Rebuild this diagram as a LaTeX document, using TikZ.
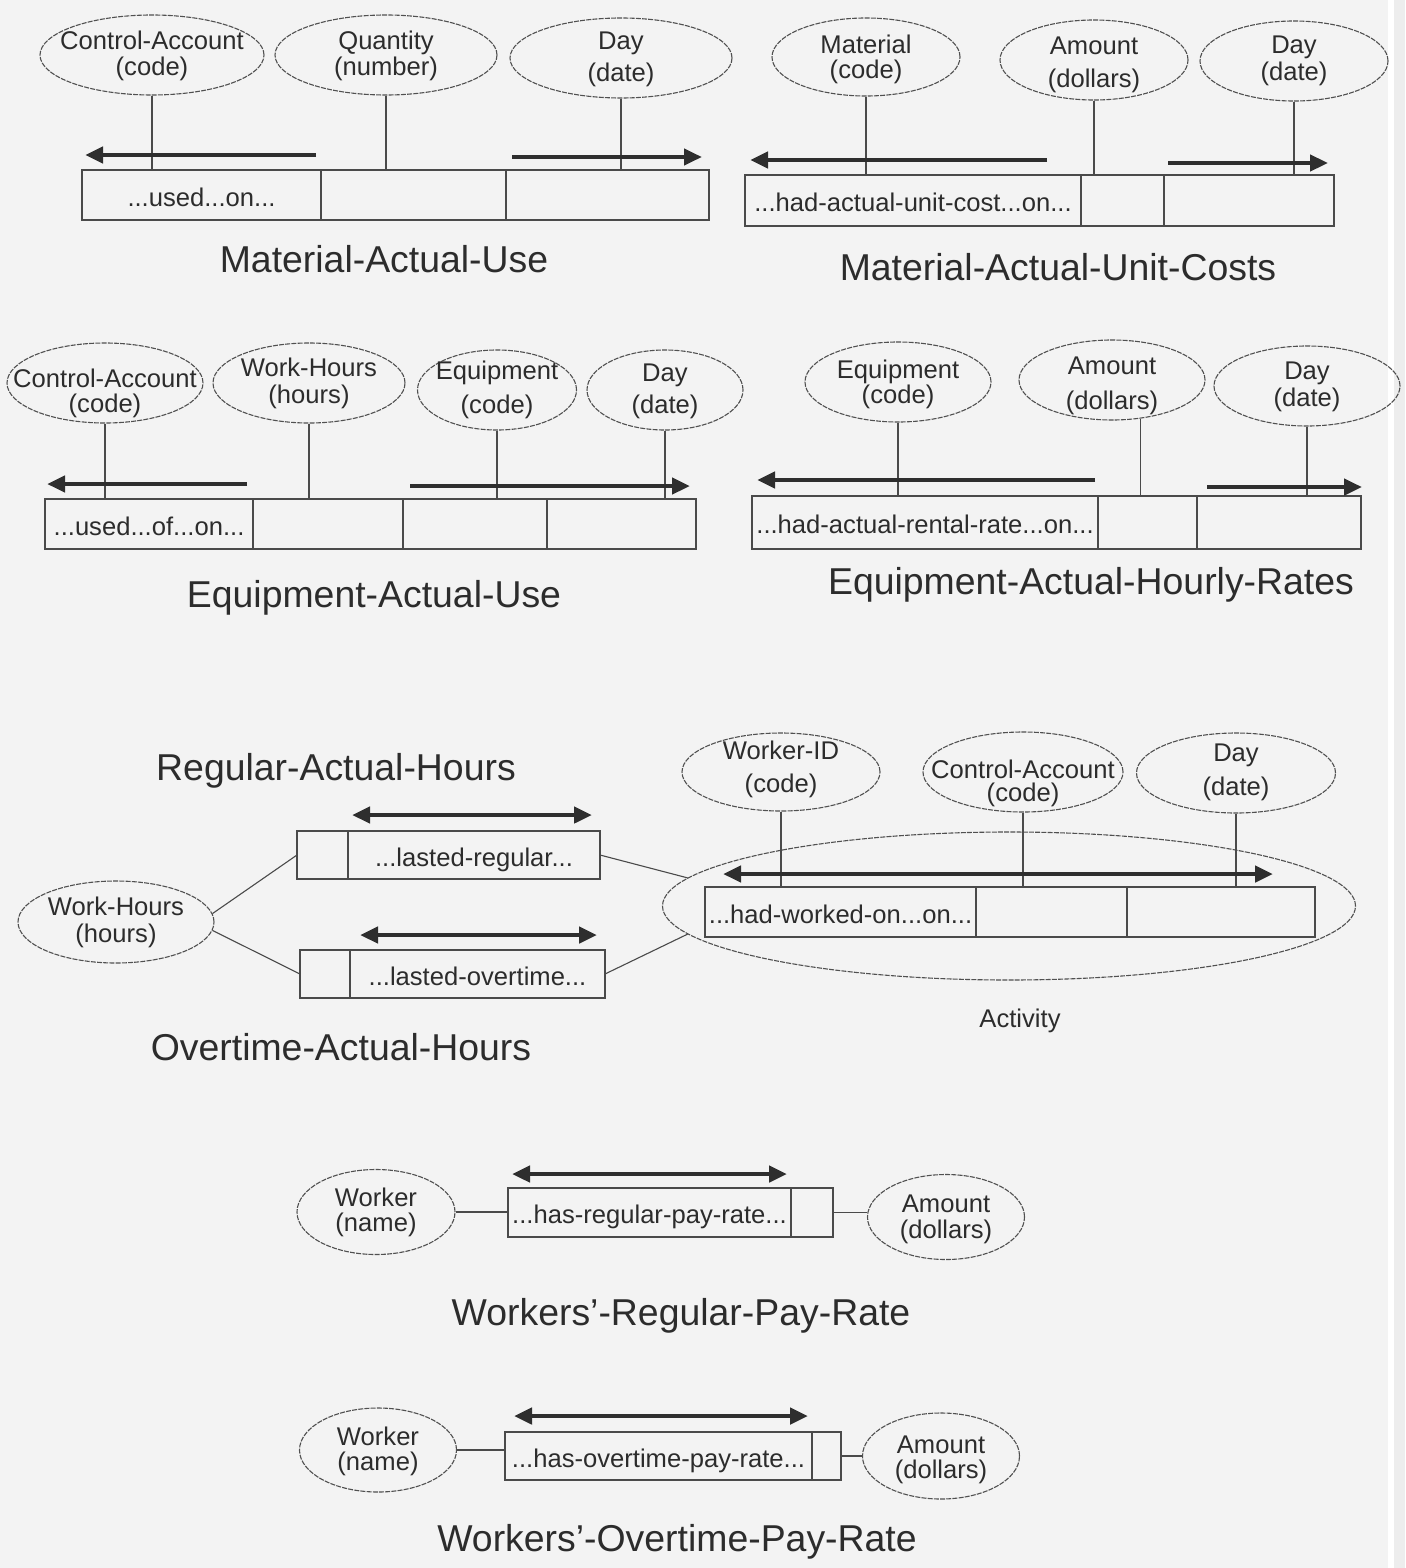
\documentclass[tikz,border=0pt]{standalone}
\usepackage{fontspec}
\setmainfont{Liberation Sans}
\usetikzlibrary{shapes.geometric,arrows.meta}

\definecolor{paper}{HTML}{F3F3F3}
\definecolor{ink}{HTML}{2C2C2C}
\definecolor{linec}{HTML}{4A4A4A}
\definecolor{edgec}{HTML}{505050}
\definecolor{barc}{HTML}{2E2E2E}

% attribute ellipse: name, x, y, width, height, line 1, y of line 1, line 2, y of line 2
\newcommand\attrnode[9]{%
  \node[attr, minimum width=#4pt, minimum height=#5pt] (#1) at (#2,#3) {};
  \node[atxt] (#1-a) at (#2,#7) {#6};
  \node[atxt] (#1-b) at (#2,#9) {#8};
}

\begin{document}
\begin{tikzpicture}[x=1pt,y=-1pt,
  attr/.style={ellipse, draw=edgec, line width=1.1pt, dash pattern=on 5pt off 1.2pt, inner sep=0pt},
  atxt/.style={anchor=base, yshift=-8pt, inner sep=0pt, text=ink, font=\fontsize{25.6}{28}\selectfont},
  cell/.style={rectangle, draw=linec, line width=1.3pt, anchor=north west, inner sep=0pt, outer sep=0pt,
    text=ink, font=\fontsize{25.6}{28}\selectfont, text height=27pt, text depth=5pt},
  link/.style={draw=linec, line width=1.1pt},
  tip/.tip={Triangle[length=18pt,width=16pt]},
  bar/.style={draw=barc, line width=4.5pt, -tip},
  dbar/.style={draw=barc, line width=4.5pt, tip-tip},
  title/.style={anchor=base, yshift=-13.5pt, inner sep=0pt, text=ink, font=\fontsize{37.4}{40}\selectfont},
]
% page
\useasboundingbox (0,0) rectangle (1405,1568);
\fill[paper] (0,0) rectangle (1405,1568);
\fill[white] (1388,0) rectangle (1394,1568);
\fill[black!7] (1394,0) rectangle (1405,1568);

% ---------------- Material-Actual-Use ----------------
\attrnode{ca1}{152}{55}{224}{80}{Control-Account}{42}{(code)}{68}
\attrnode{qty1}{386}{55}{222}{80}{Quantity}{42}{(number)}{68}
\attrnode{day1}{621}{58}{222}{80}{Day}{42}{(date)}{74}
\node[cell, minimum width=239pt, minimum height=50pt] (mu1) at (82,170) {...used...on...};
\node[cell, minimum width=185pt, minimum height=50pt] (mu2) at (mu1.north east) {};
\node[cell, minimum width=203pt, minimum height=50pt] (mu3) at (mu2.north east) {};
\draw[link] (ca1) -- (ca1 |- mu1.north);
\draw[link] (qty1) -- (qty1 |- mu2.north);
\draw[link] (day1) -- (day1 |- mu3.north);
\draw[bar] (316,155) -- (85,155);
\draw[bar] (512,157) -- (702,157);
\node[title] (t1) at (384,259) {Material-Actual-Use};

% ---------------- Material-Actual-Unit-Costs ----------------
\attrnode{mat2}{866}{57}{188}{78}{Material}{46}{(code)}{71}
\attrnode{amt2}{1094}{60}{188}{80}{Amount}{47}{(dollars)}{80}
\attrnode{day2}{1294}{61}{188}{80}{Day}{46}{(date)}{73}
\node[cell, minimum width=336pt, minimum height=51pt] (mc1) at (745,175) {...had-actual-unit-cost...on...};
\node[cell, minimum width=83pt, minimum height=51pt] (mc2) at (mc1.north east) {};
\node[cell, minimum width=170pt, minimum height=51pt] (mc3) at (mc2.north east) {};
\draw[link] (mat2) -- (mat2 |- mc1.north);
\draw[link] (amt2) -- (amt2 |- mc2.north);
\draw[link] (day2) -- (day2 |- mc3.north);
\draw[bar] (1047,160) -- (750,160);
\draw[bar] (1168,163) -- (1328,163);
\node[title] (t2) at (1058,267) {Material-Actual-Unit-Costs};

% ---------------- Equipment-Actual-Use ----------------
\attrnode{ca3}{105}{383}{196}{80}{Control-Account}{379}{(code)}{404}
\attrnode{wh3}{309}{383}{192}{80}{Work-Hours}{368}{(hours)}{395}
\attrnode{eq3}{497}{390}{159}{80}{Equipment}{371}{(code)}{405}
\attrnode{day3}{665}{390}{156}{80}{Day}{373}{(date)}{405}
\node[cell, minimum width=208pt, minimum height=50pt] (eu1) at (45,499) {...used...of...on...};
\node[cell, minimum width=150pt, minimum height=50pt] (eu2) at (eu1.north east) {};
\node[cell, minimum width=144pt, minimum height=50pt] (eu3) at (eu2.north east) {};
\node[cell, minimum width=149pt, minimum height=50pt] (eu4) at (eu3.north east) {};
\draw[link] (ca3) -- (ca3 |- eu1.north);
\draw[link] (wh3) -- (wh3 |- eu2.north);
\draw[link] (eq3) -- (eq3 |- eu3.north);
\draw[link] (day3) -- (day3 |- eu4.north);
\draw[bar] (247,484) -- (47,484);
\draw[bar] (410,486) -- (690,486);
\node[title] (t3) at (374,594) {Equipment-Actual-Use};

% ---------------- Equipment-Actual-Hourly-Rates ----------------
\attrnode{eq4}{898}{382}{186}{80}{Equipment}{370}{(code)}{395}
\attrnode{amt4}{1112}{380}{186}{80}{Amount}{366}{(dollars)}{401}
\attrnode{day4}{1307}{386}{186}{80}{Day}{371}{(date)}{398}
\node[cell, minimum width=346pt, minimum height=53pt] (eh1) at (752,496) {...had-actual-rental-rate...on...};
\node[cell, minimum width=99pt, minimum height=53pt] (eh2) at (eh1.north east) {};
\node[cell, minimum width=164pt, minimum height=53pt] (eh3) at (eh2.north east) {};
\draw[link] (eq4) -- (eq4 |- eh1.north);
\draw[link] (amt4.-54) -- (amt4.-54 |- eh2.north);
\draw[link] (day4) -- (day4 |- eh3.north);
\draw[bar] (1095,480) -- (757,480);
\draw[bar] (1207,487) -- (1362,487);
\node[title] (t4) at (1091,581) {Equipment-Actual-Hourly-Rates};

% ---------------- Regular / Overtime hours on an Activity ----------------
\node[title] (t5) at (336,767) {Regular-Actual-Hours};
\node[title] (t6) at (341,1047) {Overtime-Actual-Hours};

\node[attr, minimum width=693pt, minimum height=148pt] (act5) at (1009,906) {};
\attrnode{wid5}{781}{772}{198}{78}{Worker-ID}{751}{(code)}{784}
\attrnode{ca5}{1023}{772}{200}{80}{Control-Account}{770}{(code)}{793}
\attrnode{day5}{1236}{773}{199}{80}{Day}{753}{(date)}{787}
\node[cell, minimum width=271pt, minimum height=50pt] (aw1) at (705,887) {...had-worked-on...on...};
\node[cell, minimum width=151pt, minimum height=50pt] (aw2) at (aw1.north east) {};
\node[cell, minimum width=188pt, minimum height=50pt] (aw3) at (aw2.north east) {};
\draw[link] (wid5) -- (wid5 |- aw1.north);
\draw[link] (ca5) -- (ca5 |- aw2.north);
\draw[link] (day5) -- (day5 |- aw3.north);
\draw[dbar] (723,874) -- (1273,874);
\node[atxt, yshift=0pt] (actl) at (1020,1019) {Activity};

\attrnode{wh5}{116}{922}{196}{82}{Work-Hours}{907}{(hours)}{934}
\node[cell, minimum width=51pt, minimum height=48pt] (rg1) at (297,831) {};
\node[cell, minimum width=252pt, minimum height=48pt] (rg2) at (rg1.north east) {...lasted-regular...};
\node[cell, minimum width=50pt, minimum height=48pt] (ot1) at (300,950) {};
\node[cell, minimum width=255pt, minimum height=48pt] (ot2) at (ot1.north east) {...lasted-overtime...};
\draw[dbar] (352,815) -- (592,815);
\draw[dbar] (360,935) -- (597,935);
\draw[link] (wh5.5) -- (rg1.west);
\draw[link] (wh5.-5) -- (ot1.west);
\draw[link] (rg2.east) -- (act5.175);
\draw[link] (ot2.east) -- (act5.185);

% ---------------- Workers'-Regular-Pay-Rate ----------------
\attrnode{wk6}{376}{1212}{158}{85}{Worker}{1198}{(name)}{1223}
\attrnode{amt6}{946}{1217}{157}{85}{Amount}{1204}{(dollars)}{1230}
\node[cell, minimum width=283pt, minimum height=49pt] (wp1) at (508,1188) {...has-regular-pay-rate...};
\node[cell, minimum width=42pt, minimum height=49pt] (wp2) at (wp1.north east) {};
\draw[link] (wk6.east) -- (wk6.east -| wp1.west);
\draw[link] (wp2.east) -- (wp2.east -| amt6.west);
\draw[dbar] (512,1174) -- (787,1174);
\node[title] (t7) at (681,1312) {Workers'-Regular-Pay-Rate};

% ---------------- Workers'-Overtime-Pay-Rate ----------------
\attrnode{wk7}{378}{1450}{157}{84}{Worker}{1437}{(name)}{1462}
\attrnode{amt7}{941}{1456}{157}{86}{Amount}{1445}{(dollars)}{1470}
\node[cell, minimum width=307pt, minimum height=48pt] (wo1) at (505,1432) {...has-overtime-pay-rate...};
\node[cell, minimum width=29pt, minimum height=48pt] (wo2) at (wo1.north east) {};
\draw[link] (wk7.east) -- (wk7.east -| wo1.west);
\draw[link] (wo2.east) -- (wo2.east -| amt7.west);
\draw[dbar] (514,1416) -- (808,1416);
\node[title] (t8) at (677,1538) {Workers'-Overtime-Pay-Rate};
\end{tikzpicture}
\end{document}
